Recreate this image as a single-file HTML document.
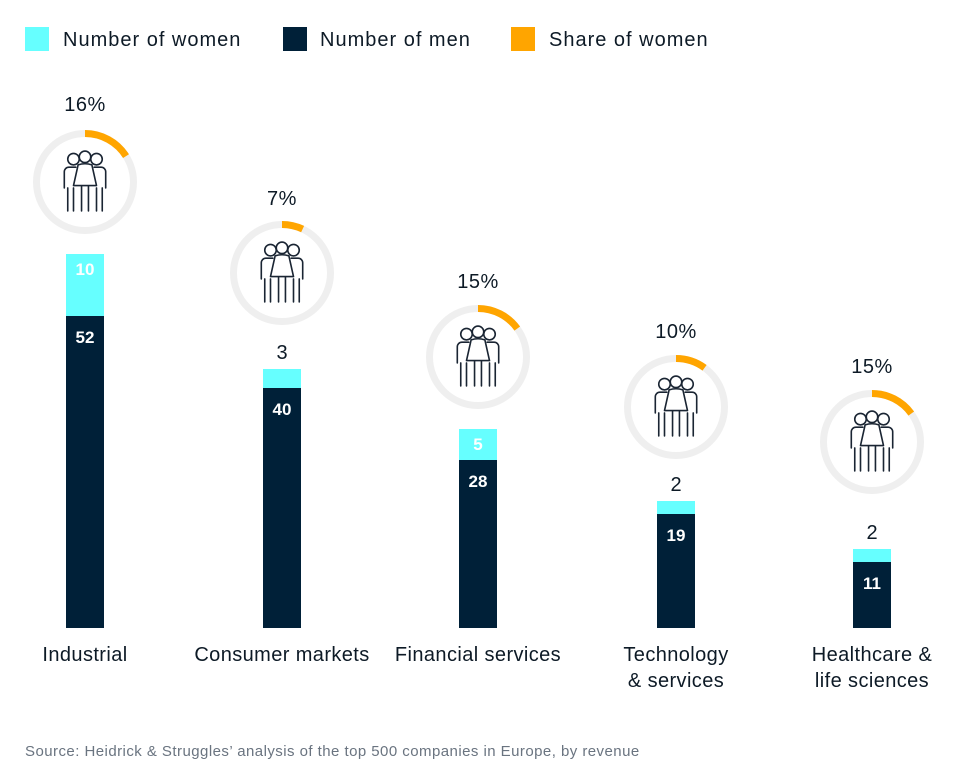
<!DOCTYPE html>
<html><head><meta charset="utf-8"><style>
body{margin:0;background:#fff;}
svg{display:block;font-family:"Liberation Sans",sans-serif;}
</style></head><body>
<svg width="970" height="780" viewBox="0 0 970 780">
<defs>
<g id="ppl0" fill="none" stroke="#1a2533" stroke-width="1.4" stroke-linecap="round" stroke-linejoin="round">
  <circle cx="-10" cy="-19" r="5"/><circle cx="0" cy="-21" r="5"/><circle cx="10" cy="-19" r="5"/>
  <path d="M-8,-12 h-6 a4,4 0 0 0 -4,4 v14 M-15,6 v20 M-10,6 v20"/>
  <path d="M8,-12 h6 a4,4 0 0 1 4,4 v14 M15,6 v20 M10,6 v20"/>
  <path d="M-6,-14 q6,-2 12,0 l4,18 h-20 z M-3,4 v22 M3,4 v22"/>
</g>
<g id="ppl"><use href="#ppl0" transform="scale(1.15)"/></g>
</defs>
<g font-size="20" fill="#0d1a26" letter-spacing="1">
<rect x="25" y="27" width="24" height="24" fill="#66ffff"/>
<text x="63" y="46">Number of women</text>
<rect x="283" y="27" width="24" height="24" fill="#002038"/>
<text x="320" y="46">Number of men</text>
<rect x="511" y="27" width="24" height="24" fill="#ffa500"/>
<text x="549" y="46">Share of women</text>
</g>

<g font-size="20" fill="#0d1a26" text-anchor="middle" letter-spacing="0.5">
<text x="85" y="111">16%</text>
<text x="282" y="205">7%</text>
<text x="478" y="288">15%</text>
<text x="676" y="338">10%</text>
<text x="872" y="373">15%</text>
</g>

<g fill="none" stroke-width="7">
<circle cx="85" cy="182" r="48.5" stroke="#efefef"/>
<circle cx="85" cy="182" r="48.5" stroke="#ffa500" stroke-dasharray="48.76 400" transform="rotate(-90 85 182)"/>
<circle cx="282" cy="273" r="48.5" stroke="#efefef"/>
<circle cx="282" cy="273" r="48.5" stroke="#ffa500" stroke-dasharray="21.3 400" transform="rotate(-90 282 273)"/>
<circle cx="478" cy="357" r="48.5" stroke="#efefef"/>
<circle cx="478" cy="357" r="48.5" stroke="#ffa500" stroke-dasharray="45.7 400" transform="rotate(-90 478 357)"/>
<circle cx="676" cy="407" r="48.5" stroke="#efefef"/>
<circle cx="676" cy="407" r="48.5" stroke="#ffa500" stroke-dasharray="30.5 400" transform="rotate(-90 676 407)"/>
<circle cx="872" cy="442" r="48.5" stroke="#efefef"/>
<circle cx="872" cy="442" r="48.5" stroke="#ffa500" stroke-dasharray="45.7 400" transform="rotate(-90 872 442)"/>
</g>
<use href="#ppl" x="85" y="181"/>
<use href="#ppl" x="282" y="272"/>
<use href="#ppl" x="478" y="356"/>
<use href="#ppl" x="676" y="406"/>
<use href="#ppl" x="872" y="441"/>

<rect x="66" y="254" width="38" height="62" fill="#66ffff"/>
<rect x="66" y="316" width="38" height="312" fill="#002038"/>
<rect x="263" y="369" width="38" height="19" fill="#66ffff"/>
<rect x="263" y="388" width="38" height="240" fill="#002038"/>
<rect x="459" y="429" width="38" height="31" fill="#66ffff"/>
<rect x="459" y="460" width="38" height="168" fill="#002038"/>
<rect x="657" y="501" width="38" height="13" fill="#66ffff"/>
<rect x="657" y="514" width="38" height="114" fill="#002038"/>
<rect x="853" y="549" width="38" height="13" fill="#66ffff"/>
<rect x="853" y="562" width="38" height="66" fill="#002038"/>

<g font-size="17" font-weight="bold" fill="#fff" text-anchor="middle">
<text x="85" y="275">10</text>
<text x="85" y="343">52</text>
<text x="282" y="415">40</text>
<text x="478" y="450">5</text>
<text x="478" y="487">28</text>
<text x="676" y="541">19</text>
<text x="872" y="589">11</text>
</g>
<g font-size="20" fill="#0d1a26" text-anchor="middle">
<text x="282" y="359">3</text>
<text x="676" y="491">2</text>
<text x="872" y="539">2</text>
</g>

<g font-size="20" fill="#0d1a26" text-anchor="middle" letter-spacing="0.4">
<text x="85" y="661">Industrial</text>
<text x="282" y="661">Consumer markets</text>
<text x="478" y="661">Financial services</text>
<text x="676" y="661">Technology</text>
<text x="676" y="687">&amp; services</text>
<text x="872" y="661">Healthcare &amp;</text>
<text x="872" y="687">life sciences</text>
</g>
<text x="25" y="756" font-size="15" letter-spacing="0.45" fill="#6a7480">Source: Heidrick &amp; Struggles’ analysis of the top 500 companies in Europe, by revenue</text>
</svg>
</body></html>
